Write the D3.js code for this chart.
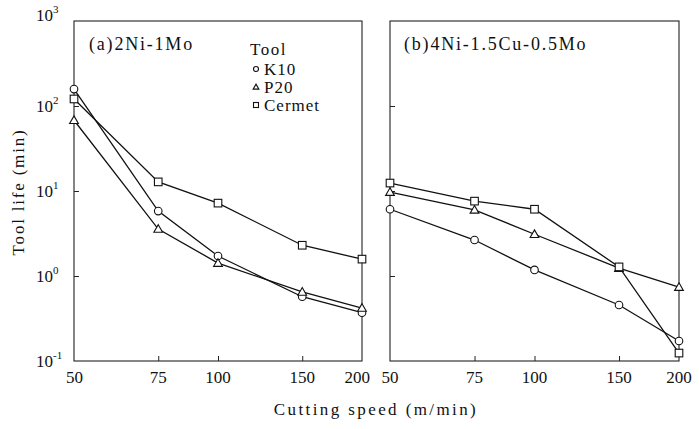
<!DOCTYPE html>
<html>
<head>
<meta charset="utf-8">
<script src="https://cdn.jsdelivr.net/npm/d3@7"></script>
<style>
  body { margin: 0; background: #fff; }
  text { font-family: "Liberation Serif", "DejaVu Serif", serif; fill: #111; }
</style>
</head>
<body>
<script>
// cutting speeds (m/min)
let speeds = [50, 75, 100, 150, 200];

// panel (a) 2Ni-1Mo, tool life (min)
let aK10    = [158, 5.8, 1.72, 0.57, 0.37];
let aP20    = [68, 3.57, 1.42, 0.65, 0.42];
let aCermet = [121, 12.8, 7.2, 2.3, 1.58];

// panel (b) 4Ni-1.5Cu-0.5Mo
let bK10    = [6.1, 2.65, 1.18, 0.456, 0.172];
let bP20    = [9.7, 6.0, 3.1, 1.24, 0.74];
let bCermet = [12.4, 7.6, 6.1, 1.28, 0.124];

let xTicks = [50, 75, 100, 150, 200];
let yTicks = [0.1, 1, 10, 100, 1000];
let yExp = ["-1", "0", "1", "2", "3"];

let tools = ["K10", "P20", "Cermet"];
let shapes = {K10: "circle", P20: "triangle", Cermet: "square"};

let svgWidth = 699, svgHeight = 429;
let svg = d3.select("body").append("svg")
  .attr("width", svgWidth)
  .attr("height", svgHeight);

// shared vertical log scale
let yscale = d3.scaleLog().domain([0.1, 1000]).range([361, 21]);

let panels = [
  {title: "(b)4Ni-1.5Cu-0.5Mo", x0: 390, x1: 679, data: {K10: bK10, P20: bP20, Cermet: bCermet}, titleX: 404},
  {title: "(a)2Ni-1Mo", x0: 74, x1: 362, data: {K10: aK10, P20: aP20, Cermet: aCermet}, titleX: 89}
];

function marker(g, shape, cx, cy, s) {
  if (shape === "circle") {
    g.append("circle").attr("cx", cx).attr("cy", cy).attr("r", s)
      .attr("fill", "#fff").attr("stroke", "#111").attr("stroke-width", 1.1);
  } else if (shape === "square") {
    g.append("rect").attr("x", cx - s).attr("y", cy - s).attr("width", 2 * s).attr("height", 2 * s)
      .attr("fill", "#fff").attr("stroke", "#111").attr("stroke-width", 1.1);
  } else {
    let h = s * 1.15;
    g.append("path")
      .attr("d", `M${cx},${cy - h} L${cx + h},${cy + h * 0.75} L${cx - h},${cy + h * 0.75} Z`)
      .attr("fill", "#fff").attr("stroke", "#111").attr("stroke-width", 1.1);
  }
}

panels.forEach(p => {
  let xscale = d3.scaleLog().domain([50, 200]).range([p.x0, p.x1]);
  let g = svg.append("g");

  // frame
  g.append("rect")
    .attr("x", p.x0).attr("y", yscale(1000))
    .attr("width", p.x1 - p.x0).attr("height", yscale(0.1) - yscale(1000))
    .attr("fill", "none").attr("stroke", "#222").attr("stroke-width", 1.1);

  // inward ticks
  let bottom = d3.axisTop(xscale).tickValues(xTicks.slice(1, 4)).tickSize(5).tickFormat("");
  g.append("g").attr("transform", `translate(0,${yscale(0.1)})`).call(bottom)
    .call(a => a.select(".domain").remove());
  let left = d3.axisRight(yscale).tickValues(yTicks.slice(1, 4)).tickSize(5).tickFormat("");
  g.append("g").attr("transform", `translate(${p.x0},0)`).call(left)
    .call(a => a.select(".domain").remove());
  g.selectAll(".tick line").attr("stroke", "#222");

  // x tick labels
  g.selectAll("text.xl").data(xTicks).enter().append("text")
    .attr("x", d => xscale(d))
    .attr("y", 383)
    .attr("text-anchor", d => d === 200 && p.x0 < 100 ? "end" : (d === 50 && p.x0 < 100 ? "start" : "middle"))
    .attr("dx", d => d === 200 && p.x0 < 100 ? 8 : (d === 50 && p.x0 < 100 ? -8 : 0))
    .style("font-size", "17px")
    .text(d => d);

  // lines
  let line = d3.line().x((d, i) => xscale(speeds[i])).y(d => yscale(d));
  tools.forEach(t => {
    g.append("path").datum(p.data[t])
      .attr("d", line).attr("fill", "none")
      .attr("stroke", "#111").attr("stroke-width", 1.3);
  });
  tools.forEach(t => {
    p.data[t].forEach((v, i) => marker(g, shapes[t], xscale(speeds[i]), yscale(v), 3.8));
  });

  g.append("text").attr("x", p.titleX).attr("y", 50)
    .style("font-size", "18px").style("letter-spacing", "1.8px").text(p.title);
});

// legend
let leg = svg.append("g");
leg.append("text").attr("x", 250).attr("y", 55).style("font-size", "17px")
  .style("letter-spacing", "1.5px").text("Tool");
tools.forEach((t, i) => {
  let yy = 69 + i * 18;
  marker(leg, shapes[t], 256, yy, 2.5);
  leg.append("text").attr("x", 264).attr("y", yy + 6).style("font-size", "17px")
    .style("letter-spacing", "1px").text(t);
});

// y tick labels
yTicks.forEach((v, i) => {
  let yy = yscale(v) + (v === 1000 ? -6 : 0);
  let t = svg.append("text").attr("x", 36).attr("y", yy + 6).style("font-size", "17px");
  t.append("tspan").text("10");
  t.append("tspan").attr("dy", -8).style("font-size", "11px").text(yExp[i]);
});

// axis titles
svg.append("text")
  .attr("transform", "translate(24,192) rotate(-90)")
  .attr("text-anchor", "middle")
  .style("font-size", "17px")
  .style("letter-spacing", "1.8px")
  .text("Tool life (min)");
svg.append("text")
  .attr("x", 376).attr("y", 415)
  .attr("text-anchor", "middle")
  .style("font-size", "17px")
  .style("letter-spacing", "2.4px")
  .text("Cutting speed (m/min)");
</script>
</body>
</html>
